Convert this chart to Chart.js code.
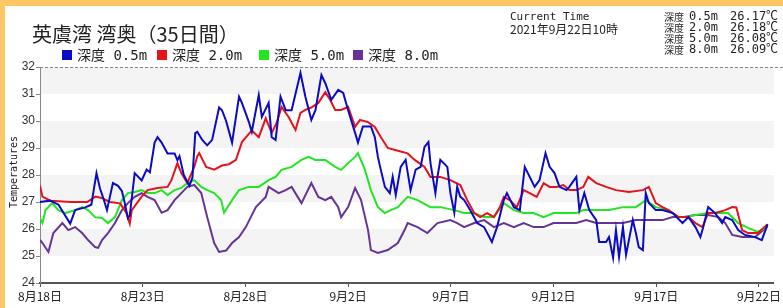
<!DOCTYPE html>
<html>
<head>
<meta charset="utf-8">
<script src="https://cdn.jsdelivr.net/npm/chart.js@4.4.0/dist/chart.umd.min.js"></script>
<style>
  html, body { margin: 0; padding: 0; background: #fdc864; }
  #wrap { width: 783px; height: 308px; }
</style>
</head>
<body>
<div id="wrap"><canvas id="tempChart" width="783" height="308"></canvas></div>
<script>
// days counted from 8/18 0時, values in ℃
var seriesLabels = ["深度 0.5m", "深度 2.0m", "深度 5.0m", "深度 8.0m"];
var seriesColors = ["#0b0bc4", "#e3141c", "#22e622", "#663399"];
var currentTemps = ["26.17℃", "26.18℃", "26.08℃", "26.09℃"];
var xTickLabels = ["8月18日", "8月23日", "8月28日", "9月2日", "9月7日", "9月12日", "9月17日", "9月22日"];

var days05 = [0, 0.5, 0.9, 1.47, 1.71, 2.2, 2.5, 2.75, 2.92, 3.1,
  3.26, 3.55, 3.8, 3.99, 4.13, 4.28, 4.37, 4.61, 4.95, 5.19,
  5.35, 5.58, 5.72, 5.92, 6.21, 6.55, 6.69, 6.79, 7.0, 7.27,
  7.42, 7.56, 7.66, 7.9, 8.14, 8.38, 8.72, 8.86, 9.06, 9.35,
  9.69, 9.83, 10.17, 10.31, 10.65, 10.8, 11.13, 11.28, 11.47, 11.71,
  11.96, 12.25, 12.68, 12.92, 13.21, 13.41, 13.7, 13.89, 14.18, 14.52,
  14.76, 15.0, 15.34, 15.48, 15.72, 16.11, 16.3, 16.45, 16.59, 16.79,
  17.03, 17.17, 17.32, 17.56, 17.8, 18.04, 18.29, 18.53, 18.72, 18.91,
  19.01, 19.25, 19.35, 19.49, 19.83, 19.98, 20.17, 20.31, 20.46, 20.65,
  20.94, 21.28, 21.62, 22.0, 22.25, 22.58, 22.73, 23.07, 23.36, 23.6,
  23.84, 24.08, 24.32, 24.61, 24.81, 25.05, 25.29, 25.63, 25.77, 26.11,
  26.26, 26.5, 26.74, 27.08, 27.22, 27.56, 27.7, 27.9, 28.04, 28.19,
  28.38, 28.53, 28.67, 28.86, 29.01, 29.15, 29.35, 29.49, 29.64, 29.98,
  30.31, 30.8, 31.28, 31.57, 31.91, 32.15, 32.29, 32.53, 32.87, 33.21,
  33.36, 33.7, 33.99, 34.32, 34.81, 35.14, 35.42];
var temp05 = [27.0, 27.05, 26.9, 26.2, 26.7, 26.8, 26.9, 28.07, 27.5, 27.1,
  26.7, 27.7, 27.6, 27.4, 26.95, 26.4, 26.5, 28.07, 27.8, 28.2,
  28.1, 29.2, 29.4, 29.2, 28.8, 28.8, 28.55, 28.7, 28.0, 27.6,
  27.9, 29.55, 29.6, 29.3, 29.1, 29.3, 30.5, 30.4, 30.0, 29.2,
  30.9, 30.67, 29.96, 29.6, 30.96, 30.15, 30.67, 29.4, 29.3, 30.9,
  30.4, 30.4, 31.78, 30.9, 30.04, 30.4, 31.7, 31.4, 30.78, 31.15,
  31.04, 30.4, 29.56, 29.2, 29.8, 29.8, 29.4, 28.67, 28.2, 27.56,
  27.33, 27.93, 27.26, 28.3, 28.56, 27.44, 28.2, 28.3, 29.04, 29.22,
  28.44, 27.33, 27.93, 28.56, 28.3, 27.33, 26.6, 27.56, 27.2, 27.07,
  26.7, 26.22, 26.07, 25.52, 26.07, 27.07, 27.33, 26.81, 26.7, 28.3,
  27.93, 27.56, 27.81, 28.81, 28.3, 28.07, 27.56, 27.44, 27.56, 27.93,
  26.7, 27.33, 26.7, 26.33, 25.52, 25.52, 25.7, 24.93, 25.96, 24.96,
  26.07, 25.04, 25.59, 26.33, 25.85, 25.33, 25.22, 27.33, 26.96, 26.7,
  26.7, 26.59, 26.22, 26.44, 26.07, 25.7, 26.07, 26.81, 26.59, 26.22,
  26.44, 26.33, 25.96, 25.78, 25.7, 25.59, 26.17];

var days20 = [0, 0.12, 0.5, 1.5, 2.3, 2.7, 3.0, 3.4, 3.9, 4.2,
  4.37, 4.47, 4.95, 5.24, 5.72, 6.21, 6.4, 6.69, 6.88, 7.17,
  7.51, 7.66, 7.75, 8.09, 8.48, 8.86, 9.2, 9.54, 9.83, 10.31,
  10.65, 10.99, 11.28, 11.52, 11.76, 12.1, 12.44, 12.68, 12.92, 13.21,
  13.55, 13.89, 14.13, 14.37, 14.66, 15.0, 15.34, 15.58, 15.97, 16.3,
  16.59, 16.93, 17.42, 17.9, 18.24, 18.72, 19.01, 19.49, 19.98, 20.46,
  20.8, 21.14, 21.43, 21.77, 22.1, 22.39, 22.58, 22.87, 23.21, 23.55,
  23.84, 24.18, 24.52, 24.81, 25.14, 25.48, 25.77, 26.11, 26.45, 26.69,
  27.08, 27.56, 28.04, 28.67, 29.35, 29.64, 29.98, 30.31, 30.6, 31.09,
  31.57, 31.91, 32.25, 32.53, 32.87, 33.36, 33.7, 33.9, 34.18, 34.47,
  34.95, 35.42];
var temp20 = [27.6, 27.2, 27.05, 27.0, 27.0, 27.2, 27.15, 27.0, 26.95, 26.6,
  26.2, 26.7, 27.2, 27.44, 27.52, 27.56, 27.81, 28.44, 28.07, 27.7,
  28.3, 28.7, 28.81, 28.3, 28.2, 28.35, 28.4, 28.56, 29.22, 29.65,
  29.4, 30.1, 29.56, 29.93, 30.52, 30.15, 29.67, 30.3, 30.41, 30.5,
  30.67, 31.07, 30.78, 30.41, 30.41, 30.52, 29.78, 30.04, 29.96, 29.78,
  29.41, 29.0, 28.9, 28.8, 28.56, 28.3, 27.93, 27.93, 27.81, 27.63,
  27.07, 26.59, 26.44, 26.59, 26.44, 26.81, 27.19, 27.07, 26.81, 27.44,
  27.33, 27.19, 27.7, 27.56, 27.56, 27.63, 27.44, 27.44, 27.56, 27.93,
  27.7, 27.56, 27.44, 27.37, 27.44, 27.56, 26.96, 26.81, 26.7, 26.44,
  26.44, 26.22, 26.07, 26.59, 26.59, 26.7, 26.81, 26.8, 25.96, 25.85,
  25.85, 26.18];

var days50 = [0, 0.12, 0.27, 0.6, 0.89, 1.23, 1.71, 2.05, 2.34, 2.68,
  3.02, 3.31, 3.65, 3.99, 4.28, 4.61, 4.95, 5.24, 5.58, 5.92,
  6.21, 6.55, 6.88, 7.17, 7.51, 7.85, 8.14, 8.48, 8.82, 8.96,
  9.35, 9.69, 10.17, 10.65, 11.13, 11.47, 11.76, 12.25, 12.73, 13.07,
  13.41, 13.89, 14.37, 14.66, 15.0, 15.34, 15.48, 15.82, 16.11, 16.45,
  16.79, 17.08, 17.42, 17.75, 17.9, 18.38, 19.01, 19.49, 20.17, 20.65,
  21.14, 21.62, 22.1, 22.58, 23.07, 23.55, 24.03, 24.52, 25.0, 25.48,
  26.11, 26.45, 27.08, 27.7, 28.38, 29.01, 29.49, 29.98, 30.6, 31.09,
  31.42, 31.91, 32.53, 33.02, 33.5, 33.99, 34.47, 34.95, 35.42];
var temp50 = [26.4, 26.22, 26.7, 26.96, 26.7, 26.59, 26.7, 26.81, 26.7, 26.44,
  26.41, 26.22, 26.44, 27.07, 27.33, 27.37, 27.44, 27.33, 27.33, 27.44,
  27.26, 27.44, 27.52, 27.7, 27.81, 27.56, 27.44, 27.33, 27.07, 26.6,
  27.07, 27.44, 27.56, 27.56, 27.81, 27.93, 28.19, 28.3, 28.56, 28.67,
  28.56, 28.56, 28.3, 28.19, 28.44, 28.67, 28.81, 28.19, 27.44, 26.81,
  26.59, 26.7, 26.81, 27.07, 27.19, 27.07, 26.81, 26.81, 26.7, 26.59,
  26.59, 26.44, 26.44, 26.96, 26.7, 26.59, 26.59, 26.44, 26.59, 26.59,
  26.59, 26.7, 26.7, 26.7, 26.81, 26.81, 27.07, 26.81, 26.7, 26.44,
  26.44, 26.52, 26.59, 26.59, 26.59, 26.22, 26.04, 25.89, 26.08];

var days80 = [0, 0.12, 0.41, 0.65, 1.09, 1.38, 1.71, 2.05, 2.34, 2.68,
  2.83, 3.02, 3.31, 3.65, 3.99, 4.28, 4.61, 4.95, 5.24, 5.58,
  5.92, 6.21, 6.55, 6.88, 7.17, 7.51, 7.85, 8.14, 8.48, 8.72,
  9.06, 9.35, 9.69, 10.02, 10.51, 10.99, 11.13, 11.62, 11.96, 12.25,
  12.73, 13.21, 13.55, 13.89, 14.18, 14.52, 14.66, 15.0, 15.34, 15.63,
  15.97, 16.11, 16.45, 16.93, 17.42, 17.75, 17.9, 18.38, 18.86, 19.35,
  19.98, 20.31, 20.65, 21.14, 21.62, 22.1, 22.58, 23.07, 23.55, 24.03,
  24.52, 25.0, 25.48, 26.11, 26.59, 27.08, 27.7, 28.38, 29.01, 29.64,
  30.31, 30.8, 31.28, 31.91, 32.53, 33.02, 33.36, 33.7, 34.18, 34.81, 35.42];
var temp80 = [25.6, 25.48, 25.15, 25.85, 26.22, 25.96, 26.07, 25.85, 25.59, 25.33,
  25.3, 25.59, 25.85, 26.22, 26.7, 26.96, 27.19, 27.33, 27.19, 27.07,
  26.6, 26.7, 27.07, 27.33, 27.56, 27.63, 27.33, 26.44, 25.48, 25.15,
  25.2, 25.48, 25.7, 26.07, 26.81, 27.19, 27.56, 27.33, 27.44, 27.56,
  26.96, 27.7, 27.19, 27.07, 27.19, 26.81, 26.44, 26.81, 27.52, 27.07,
  25.96, 25.22, 25.11, 25.22, 25.48, 25.96, 26.22, 26.07, 25.85, 26.22,
  26.33, 26.22, 26.07, 26.22, 26.33, 26.07, 26.22, 26.07, 26.22, 26.07,
  26.07, 26.22, 26.22, 26.22, 26.33, 26.22, 26.22, 26.22, 26.33, 26.33,
  26.33, 26.44, 26.44, 26.52, 26.52, 26.44, 26.22, 25.78, 25.7, 25.7, 26.09];

var toPoints = function(days, temps) {
  return days.map(function(d, i) {
    return { x: d, y: temps[i] };
  });
};

var monoFont = "'DejaVu Sans Mono', 'Noto Sans CJK JP', monospace";
var jpFont = "'Noto Sans CJK JP', sans-serif";

// orange frame, white panel, grey bands
var backdrop = {
  id: "backdrop",
  beforeDraw: function(chart) {
    var c = chart.ctx;
    var area = chart.chartArea;
    var ys = chart.scales.y;
    c.save();
    c.fillStyle = "#fdc864";
    c.fillRect(0, 0, chart.width, chart.height);
    c.fillStyle = "#ffffff";
    c.fillRect(5, 6, chart.width - 5, chart.height - 6);
    c.fillStyle = "#f4f4f4";
    for (var v = 25; v < 32; v += 2) {
      var top = ys.getPixelForValue(v + 1);
      var bottom = ys.getPixelForValue(v);
      c.fillRect(area.left, top, area.right - area.left, bottom - top);
    }
    c.restore();
  }
};

// title, legend, current readings
var header = {
  id: "header",
  afterDraw: function(chart) {
    var c = chart.ctx;
    var area = chart.chartArea;
    c.save();

    c.strokeStyle = "#888";
    c.lineWidth = 1;
    c.setLineDash([3, 2]);
    c.beginPath();
    c.moveTo(area.left, area.top + 0.5);
    c.lineTo(chart.width, area.top + 0.5);
    c.stroke();
    c.setLineDash([]);

    c.fillStyle = "#222";
    c.textBaseline = "alphabetic";
    c.font = "20px " + jpFont;
    c.fillText("英虞湾 湾奥（35日間）", 32, 42);

    var legendX = [62, 157, 259, 353];
    c.textBaseline = "middle";
    c.font = "14px " + monoFont;
    seriesLabels.forEach(function(label, i) {
      c.fillStyle = seriesColors[i];
      c.fillRect(legendX[i], 50, 10, 10);
      c.fillStyle = "#222";
      c.fillText(label, legendX[i] + 15, 56);
    });

    c.font = "11px " + monoFont;
    c.fillText("Current Time", 510, 17);
    c.font = "12px " + jpFont;
    c.fillText("2021年9月22日10時", 510, 29);

    seriesLabels.forEach(function(label, i) {
      var yy = 17 + i * 11;
      var parts = label.split(" ");
      c.font = "10px " + jpFont;
      c.fillText(parts[0], 664, yy);
      c.font = "12px " + monoFont;
      c.fillText(parts[1], 689, yy);
      c.fillText(currentTemps[i], 730, yy);
    });

    c.translate(14, 172);
    c.rotate(-Math.PI / 2);
    c.textAlign = "center";
    c.font = "10px " + monoFont;
    c.fillText("Temperatures", 0, 0);
    c.restore();
  }
};

var ctx = document.getElementById("tempChart");
var tempChart = new Chart(ctx, {
  type: "line",
  data: {
    datasets: [
      { label: seriesLabels[0], data: toPoints(days05, temp05), borderColor: seriesColors[0] },
      { label: seriesLabels[1], data: toPoints(days20, temp20), borderColor: seriesColors[1] },
      { label: seriesLabels[2], data: toPoints(days50, temp50), borderColor: seriesColors[2] },
      { label: seriesLabels[3], data: toPoints(days80, temp80), borderColor: seriesColors[3] }
    ]
  },
  options: {
    responsive: false,
    animation: false,
    layout: { autoPadding: false, padding: { left: 0, top: 67, right: 4, bottom: 0 } },
    elements: {
      line: { borderWidth: 2, tension: 0 },
      point: { radius: 0 }
    },
    plugins: {
      legend: { display: false },
      tooltip: { enabled: false }
    },
    scales: {
      x: {
        type: "linear",
        min: 0,
        max: 35.72,
        afterFit: function(scale) { scale.height = 25; },
        border: { color: "#555", width: 2 },
        grid: { drawOnChartArea: false, tickLength: 4, color: "#555" },
        ticks: {
          stepSize: 5,
          includeBounds: false,
          maxRotation: 0,
          padding: 2,
          color: "#222",
          font: { family: jpFont, size: 12 },
          callback: function(value) {
            return xTickLabels[Math.round(value / 5)] || "";
          }
        }
      },
      y: {
        min: 24,
        max: 32,
        afterFit: function(scale) { scale.width = 40; },
        border: { color: "#888", width: 1 },
        grid: { drawOnChartArea: false, tickLength: 4, color: "#888" },
        ticks: {
          stepSize: 1,
          padding: 1,
          color: "#333",
          font: { family: "'Liberation Sans', Arial, sans-serif", size: 12 }
        }
      }
    }
  },
  plugins: [backdrop, header]
});
</script>
</body>
</html>
